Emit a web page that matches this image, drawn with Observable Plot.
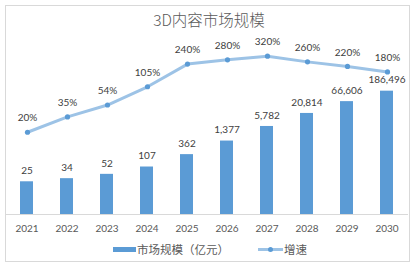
<!DOCTYPE html>
<html>
<head>
<meta charset="utf-8">
<script src="https://cdn.jsdelivr.net/npm/d3@7"></script>
<script src="https://cdn.jsdelivr.net/npm/@observablehq/plot@0.6"></script>
<style>
  html, body { margin: 0; padding: 0; background: #fff; }
  #chart { position: relative; width: 418px; height: 270px; overflow: hidden; font-family: Lato, "Noto Sans CJK SC", sans-serif; }
  #frame { position: absolute; left: 5px; top: 5px; width: 403px; height: 255px; border: 1px solid #d9d9d9; }
  #chart svg { position: absolute; left: 0; top: 0; background: transparent; }
  #title { position: absolute; left: 0; top: 9px; width: 418px; text-align: center; font: 300 15.5px "Noto Sans CJK SC", sans-serif; color: #595959; line-height: 20px; }
  .lg { position: absolute; }
  .lg-text { top: 240px; font: 11.5px "Noto Sans CJK SC", sans-serif; color: #595959; line-height: 18px; }
</style>
</head>
<body>
<div id="chart">
  <div id="frame"></div>
  <div id="title">3D内容市场规模</div>
  <div class="lg" style="left:113px; top:247px; width:23px; height:5px; background:#5b9bd5;"></div>
  <div class="lg lg-text" style="left:137px;">市场规模（亿元）</div>
  <div class="lg" style="left:258px; top:248px; width:25px; height:3px; background:#9dc3e6;"></div>
  <div class="lg" style="left:268px; top:247px; width:5px; height:5px; border-radius:50%; background:#5b9bd5;"></div>
  <div class="lg lg-text" style="left:284px;">增速</div>
</div>
<script>
// Market size (亿元) and year-over-year growth (%) per year
const years = ["2021", "2022", "2023", "2024", "2025", "2026", "2027", "2028", "2029", "2030"];
const marketSize = [25, 34, 52, 107, 362, 1377, 5782, 20814, 66606, 186496];
const growthPct = [20, 35, 54, 105, 240, 280, 320, 260, 220, 180];

const bars = years.map((year, i) => ({year, value: marketSize[i]}));
const growth = years.map((year, i) => ({year, pct: growthPct[i]}));

const W = 418, H = 270;
const fmt = d3.format(",");
const font = {fontFamily: "Lato, sans-serif", fontSize: "10px", background: "transparent", overflow: "visible"};

// Bars on a logarithmic primary axis
const barPlot = Plot.plot({
  width: W, height: H,
  marginLeft: 5, marginRight: 10, marginTop: 26.8, marginBottom: 56,
  style: font,
  x: {domain: years, paddingInner: 0.68, paddingOuter: 0.34, label: null, tickSize: 0, tickPadding: 10},
  y: {type: "log", domain: [1, 1e8], axis: null},
  marks: [
    Plot.barY(bars, {x: "year", y1: 1, y2: "value", fill: "#5b9bd5"}),
    Plot.ruleY([1], {stroke: "#d9d9d9", strokeWidth: 1}),
    Plot.text(bars, {x: "year", y: "value", text: d => fmt(d.value), dy: -11, fill: "#404040"}),
    Plot.axisX({tickSize: 0, tickPadding: 10, label: null, color: "#595959"})
  ]
});

// Growth line on a logarithmic secondary axis
const linePlot = Plot.plot({
  width: W, height: H,
  marginLeft: 5, marginRight: 10, marginTop: 24.4, marginBottom: 56,
  style: font,
  x: {type: "point", domain: years, padding: 0.5, axis: null},
  y: {type: "log", domain: [1, 1000], axis: null},
  marks: [
    Plot.line(growth, {x: "year", y: "pct", stroke: "#9dc3e6", strokeWidth: 3, strokeLinejoin: "round"}),
    Plot.dot(growth, {x: "year", y: "pct", r: 2.6, fill: "#5b9bd5", stroke: "none"}),
    Plot.text(growth, {x: "year", y: "pct", text: d => d.pct + "%", dy: -14, fill: "#404040"})
  ]
});

const chart = document.getElementById("chart");
chart.insertBefore(barPlot, document.getElementById("title"));
chart.insertBefore(linePlot, document.getElementById("title"));
</script>
</body>
</html>
